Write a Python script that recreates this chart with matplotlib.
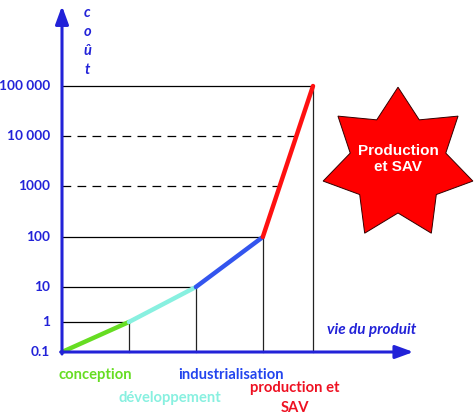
import numpy as np
import matplotlib
matplotlib.use('Agg')
import matplotlib.pyplot as plt
from matplotlib.patches import Polygon

# phases of the product life and their cost
phases = ['conception', 'développement', 'industrialisation', 'production et\nSAV']
phase_colors = ['#66dd22', '#88f0e0', '#3355ee', '#ff1111']
label_colors = ['#66dd22', '#88f0e0', '#2244ee', '#ee1122']
t_points = [0, 1, 2, 3, 3.75]
cost = [0.1, 1, 10, 100, 100000]
y_ticks = [0.1, 1, 10, 100, 1000, 10000, 100000]
y_tick_labels = ['0.1', '1', '10', '100', '1000', '10 000', '100 000']
dashed_levels = [1000, 10000]

BLUE = '#2222d8'
FONT = ['Lato', 'DejaVu Sans']

# schematic (not exact) log axis: height in pixels from the bottom for each decade
W, H = 476, 419
knot_log = [-3, -1, 0, 1, 2, 3, 4, 5, 7]
knot_h = [H - 440, H - 352, H - 322, H - 287, H - 237, H - 186, H - 136, H - 86, H + 14]


def fwd(v):
    v = np.clip(np.asarray(v, dtype=float), 1e-12, None)
    return np.interp(np.log10(v), knot_log, knot_h)


def inv(h):
    return 10 ** np.interp(h, knot_h, knot_log)


fig = plt.figure(figsize=(W / 100, H / 100), dpi=100)
ax = fig.add_axes([0, 0, 1, 1])
ax.axis('off')
px_per_unit = (313 - 62) / 3.75
ax.set_xlim(-62 / px_per_unit, (W - 62) / px_per_unit)
ax.set_yscale('function', functions=(fwd, inv))
ax.set_ylim(inv(0), inv(H))

# guide lines: horizontal to the curve, vertical down to the time axis
for i in range(1, len(t_points)):
    ax.plot([0, t_points[i]], [cost[i], cost[i]], color='black', lw=0.9, zorder=2)
    ax.plot([t_points[i], t_points[i]], [cost[0], cost[i]], color='#222222', lw=0.9, zorder=2)
for lvl in dashed_levels:
    frac = (fwd(lvl) - fwd(cost[3])) / (fwd(cost[4]) - fwd(cost[3]))
    xe = t_points[3] + frac * (t_points[4] - t_points[3])
    ax.plot([0, xe], [lvl, lvl], color='black', lw=0.9, dashes=(7, 5), zorder=2)

# cost curve, one colour per phase
for i in range(4):
    ax.plot(t_points[i:i + 2], cost[i:i + 2], color=phase_colors[i], lw=3.2,
            solid_capstyle='round', zorder=4)

# axes with arrows
arrow = dict(arrowstyle='-|>,head_length=0.6,head_width=0.22', mutation_scale=18,
             color=BLUE, lw=2.2, shrinkA=0, shrinkB=0)
ax.annotate('', xy=(0, 1 - 6 / H), xycoords=('data', 'axes fraction'),
            xytext=(0, inv(H - 354)), textcoords='data', arrowprops=arrow, zorder=5)
ax.annotate('', xy=(5.25, cost[0]), xytext=(-0.02, cost[0]), arrowprops=arrow, zorder=5)

for v, lab in zip(y_ticks, y_tick_labels):
    ax.text(-12 / px_per_unit, v, lab, ha='right', va='center', color=BLUE,
            fontsize=9.8, fontweight='bold', family=FONT)

for ch, yy in zip(['c', 'o', 'û', 't'], [13, 32, 51, 70]):
    fig.text(87 / W, 1 - yy / H, ch, ha='center', va='center', color=BLUE,
             fontsize=10.5, fontweight='bold', style='italic', family=FONT)
fig.text(372 / W, 1 - 330 / H, 'vie du produit', ha='center', va='center', color=BLUE,
         fontsize=11, fontweight='bold', style='italic', family=FONT)

label_pos = [(95, 375), (170, 398), (231, 375), (295, 398)]
for name, col, (px, py) in zip(phases, label_colors, label_pos):
    fig.text(px / W, 1 - py / H, name, ha='center', va='center', color=col,
             fontsize=10.6, fontweight='bold', family=FONT, linespacing=1.5)

# seven-pointed star
cx, cy, R, r = 3.98, (H - 164) / 100, 0.768, 0.49
ang = np.pi / 2 - np.arange(14) * np.pi / 7
rad = np.where(np.arange(14) % 2 == 0, R, r)
star = Polygon(np.column_stack([cx + rad * np.cos(ang), cy + rad * np.sin(ang)]),
               closed=True, facecolor='#ff0000', edgecolor='#330000', lw=0.7,
               transform=fig.dpi_scale_trans)
fig.patches.append(star)
fig.text(398 / W, 1 - 159 / H, 'Production\net SAV', ha='center', va='center',
         color='white', fontsize=11, fontweight='bold',
         family=['Liberation Sans', 'DejaVu Sans'], linespacing=1.2)

fig.savefig('out.png', dpi=100)
